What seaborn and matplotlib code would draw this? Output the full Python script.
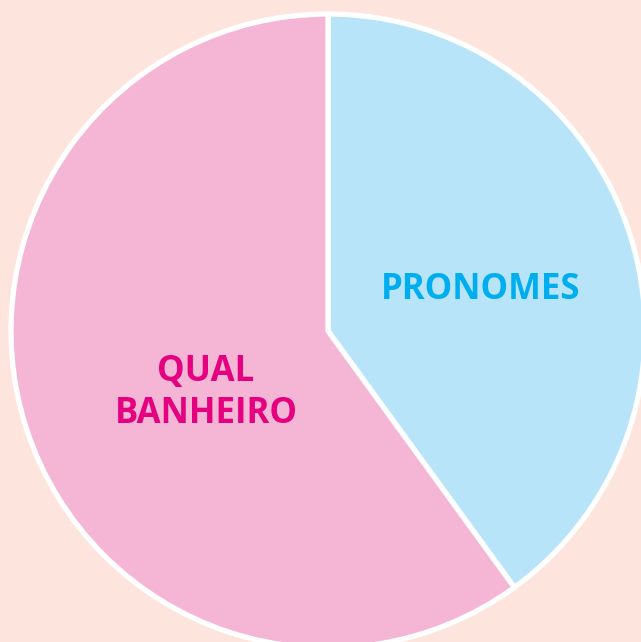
import numpy as np
import matplotlib
matplotlib.use("Agg")
import matplotlib.pyplot as plt
import seaborn as sns

# Data
categories = ["PRONOMES", "QUAL\nBANHEIRO"]
shares = [40, 60]
fill_colors = ["#b8e4f9", "#f5b6d5"]
text_colors = ["#00aeef", "#e4007f"]

sns.set_theme(style="white")
plt.rcParams['font.family'] = ['Open Sans', 'DejaVu Sans']

fig = plt.figure(figsize=(6.41, 6.42), dpi=100)
fig.patch.set_facecolor("#fde4dc")
ax = fig.add_axes([0, 0, 1, 1])
ax.set_facecolor("#fde4dc")

cx, cy, r = 328, 642 - 331, 317
wedges, _ = ax.pie(shares, colors=fill_colors, startangle=90, counterclock=False,
                   center=(cx, cy), radius=r,
                   wedgeprops=dict(edgecolor="white", linewidth=3.8))

# Labels
ax.text(481, 642 - 290, categories[0], color=text_colors[0], fontsize=25,
        fontweight="bold", ha="center", va="center")
ax.text(206, 642 - 393, categories[1], color=text_colors[1], fontsize=25,
        fontweight="bold", ha="center", va="center", linespacing=1.2)

ax.set_xlim(0, 641)
ax.set_ylim(0, 642)
ax.set_aspect("equal")
ax.axis("off")

fig.savefig("out.png", dpi=100, facecolor=fig.get_facecolor())
